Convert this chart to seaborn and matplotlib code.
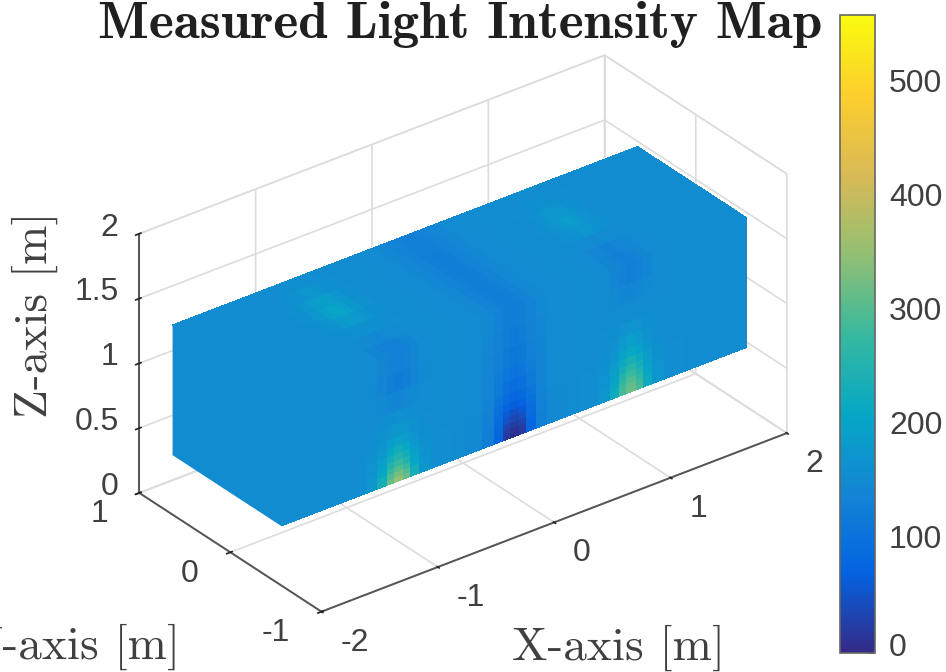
import numpy as np
import matplotlib
matplotlib.use("Agg")
import matplotlib.pyplot as plt
from matplotlib.colors import LinearSegmentedColormap, Normalize
from matplotlib.cm import ScalarMappable
from matplotlib.transforms import ScaledTranslation
import seaborn as sns

# --- data -------------------------------------------------------------
title = "Measured Light Intensity Map"
x_ticks = [-2, -1, 0, 1, 2]
x_tick_labels = ["-2", "-1", "0", "1", "2"]
y_ticks = [-1, 0, 1]
y_tick_labels = ["-1", "0", "1"]
z_ticks = [0, 0.5, 1, 1.5, 2]
z_tick_labels = ["0", "0.5", "1", "1.5", "2"]
cbar_ticks = [0, 100, 200, 300, 400, 500]

# cell edges of the measured block
x_edges = [-2.0, -1.45, -1.28, -1.18, -1.10, -1.04, -0.96, -0.90, -0.82, -0.72, -0.55,
           -0.45, -0.28, -0.18, -0.10, -0.04, 0.04, 0.10, 0.18, 0.28, 0.45,
           0.55, 0.72, 0.82, 0.90, 0.96, 1.04, 1.10, 1.18, 1.28, 1.45, 2.0]
y_edges = [-0.56, -0.41, -0.26, -0.11, 0.04, 0.19, 0.34, 0.49, 0.64]
z_edges = [0.46, 0.50, 0.54, 0.58, 0.63, 0.68, 0.74, 0.81, 0.91, 1.01, 1.16, 1.31, 1.46]

# front face, rows bottom to top, columns along x, around x = -1, 0, 1
front_left = [
    [158, 176, 238, 315, 350, 315, 238, 176, 158],
    [158, 174, 228, 298, 330, 298, 228, 174, 158],
    [157, 172, 214, 275, 305, 275, 214, 172, 157],
    [157, 170, 204, 250, 275, 250, 204, 170, 157],
    [156, 167, 192, 228, 250, 228, 192, 167, 156],
    [156, 164, 180, 210, 228, 210, 180, 164, 156],
    [155, 161, 172, 190, 200, 190, 172, 161, 155],
    [155, 157, 163, 172, 178, 172, 163, 157, 155],
    [155, 155, 157, 160, 162, 160, 157, 155, 155],
    [155, 153, 149, 145, 143, 145, 149, 153, 155],
    [155, 150, 138, 127, 122, 127, 138, 150, 155],
    [155, 152, 143, 134, 130, 134, 143, 152, 155],
]
front_mid = [
    [148, 128, 75, 18, 8, 18, 75, 128, 148],
    [148, 128, 78, 24, 12, 24, 78, 128, 148],
    [148, 128, 82, 34, 22, 34, 82, 128, 148],
    [149, 130, 88, 48, 36, 48, 88, 130, 149],
    [150, 132, 94, 60, 50, 60, 94, 132, 150],
    [150, 134, 100, 74, 66, 74, 100, 134, 150],
    [151, 136, 108, 86, 80, 86, 108, 136, 151],
    [152, 139, 116, 98, 92, 98, 116, 139, 152],
    [153, 142, 124, 110, 104, 110, 124, 142, 153],
    [153, 144, 130, 118, 113, 118, 130, 144, 153],
    [153, 146, 134, 124, 120, 124, 134, 146, 153],
    [153, 147, 137, 128, 124, 128, 137, 147, 153],
]
front_right = [
    [158, 174, 226, 292, 320, 292, 226, 174, 158],
    [158, 173, 221, 284, 312, 284, 221, 173, 158],
    [157, 172, 213, 270, 298, 270, 213, 172, 157],
    [157, 170, 203, 252, 280, 252, 203, 170, 157],
    [156, 167, 194, 234, 260, 234, 194, 167, 156],
    [156, 164, 186, 217, 238, 217, 186, 164, 156],
    [155, 161, 176, 198, 214, 198, 176, 161, 155],
    [155, 158, 167, 182, 192, 182, 167, 158, 155],
    [155, 156, 160, 168, 172, 168, 160, 156, 155],
    [155, 155, 155, 155, 155, 155, 155, 155, 155],
    [155, 153, 149, 145, 143, 145, 149, 153, 155],
    [155, 152, 143, 133, 128, 133, 143, 152, 155],
]
# top face, rows front to back, columns along x
top_left = [
    [155, 152, 143, 134, 130, 134, 143, 152, 155],
    [155, 155, 151, 147, 145, 147, 151, 155, 155],
    [155, 157, 160, 164, 166, 164, 160, 157, 155],
    [155, 160, 170, 182, 188, 182, 170, 160, 155],
    [155, 163, 178, 196, 206, 196, 178, 163, 155],
    [155, 161, 174, 188, 194, 188, 174, 161, 155],
    [155, 157, 163, 170, 173, 170, 163, 157, 155],
    [155, 155, 157, 159, 160, 159, 157, 155, 155],
]
top_mid = [
    [153, 147, 137, 128, 124, 128, 137, 147, 153],
    [153, 147, 136, 128, 124, 128, 136, 147, 153],
    [153, 147, 136, 128, 124, 128, 136, 147, 153],
    [152, 146, 136, 128, 125, 128, 136, 146, 152],
    [152, 146, 136, 129, 126, 129, 136, 146, 152],
    [151, 145, 136, 129, 126, 129, 136, 145, 151],
    [151, 145, 136, 130, 128, 130, 136, 145, 151],
    [151, 145, 136, 130, 128, 130, 136, 145, 151],
]
top_right = [
    [155, 152, 143, 133, 128, 133, 143, 152, 155],
    [155, 153, 146, 138, 134, 138, 146, 153, 155],
    [155, 155, 153, 151, 150, 151, 153, 155, 155],
    [155, 157, 163, 170, 173, 170, 163, 157, 155],
    [155, 159, 168, 180, 186, 180, 168, 159, 155],
    [155, 157, 164, 173, 176, 173, 164, 157, 155],
    [155, 156, 158, 161, 163, 161, 158, 156, 155],
    [155, 155, 155, 157, 158, 157, 155, 155, 155],
]
background_level = 155

parula_colors = ["#352a87", "#0363e1", "#1485d4", "#06a7c6", "#38b99e",
                 "#92bf73", "#d9ba56", "#fcce2e", "#f9fb0e"]
value_min, value_max = 0, 560

# --- style ------------------------------------------------------------
sns.set_theme(style="whitegrid", rc={
    "grid.color": "#dcdcdc", "grid.linewidth": 1.2,
    "axes3d.xaxis.panecolor": "white", "axes3d.yaxis.panecolor": "white",
    "axes3d.zaxis.panecolor": "white",
})
SANS = "Liberation Sans"
INK = "#404040"
W, H = 946, 672
fig = plt.figure(figsize=(W / 100, H / 100), dpi=100, facecolor="white")

side = 672
cx, cy = 454, 342.5
ax = fig.add_axes([(cx - side / 2) / W, (H - cy - side / 2) / H, side / W, side / H],
                  projection="3d", proj_type="ortho")
ax.view_init(elev=30, azim=-127.5)
ax.set_box_aspect((3.92, 2, 2), zoom=1.045)
ax.set_xlim(-2, 2, view_margin=0)
ax.set_ylim(-1, 1, view_margin=0)
ax.set_zlim(0, 2, view_margin=0)
ax.patch.set_alpha(0)

cmap = LinearSegmentedColormap.from_list("parula_like", parula_colors, N=256)
norm = Normalize(value_min, value_max)


def assemble(left, mid, right):
    n = len(left)
    gap = np.full((n, 1), background_level)
    return np.hstack([gap, left, gap, mid, gap, right, gap])


front = assemble(front_left, front_mid, front_right)
top = assemble(top_left, top_mid, top_right)
xe, ye, ze = np.array(x_edges), np.array(y_edges), np.array(z_edges)

common = dict(rstride=1, cstride=1, shade=False, linewidth=0, antialiased=False)
X, Z = np.meshgrid(xe, ze)
ax.plot_surface(X, np.full_like(X, ye[0]), Z, facecolors=cmap(norm(front)), **common)
X, Y = np.meshgrid(xe, ye)
ax.plot_surface(X, Y, np.full_like(X, ze[-1]), facecolors=cmap(norm(top)), **common)
Y, Z = np.meshgrid(ye[[0, -1]], ze[[0, -1]])
ax.plot_surface(np.full_like(Y, xe[0]), Y, Z,
                facecolors=cmap(norm(np.full((1, 1), background_level))), **common)

ax.set_xticks(x_ticks, labels=x_tick_labels)
ax.set_yticks(y_ticks, labels=y_tick_labels)
ax.set_zticks(z_ticks, labels=z_tick_labels)
for axis, pad, ha in ((ax.xaxis, 18, "left"), (ax.yaxis, 9, "right"), (ax.zaxis, 0, "right")):
    axis.pane.set_facecolor("white")
    axis.pane.set_edgecolor("#dcdcdc")
    axis.line.set_color("#555555")
    axis.line.set_linewidth(1.4)
    axis._axinfo["tick"]["inward_factor"] = 0.1
    axis._axinfo["tick"]["outward_factor"] = 0.05
    axis._axinfo["tick"]["color"] = "#555555"
    axis.set_tick_params(labelsize=23, labelcolor=INK, pad=pad, labelfontfamily=SANS)
    for tick in axis.get_major_ticks():
        tick.label1.set_ha(ha)
        tick.label1.set_va("baseline")
ax.zaxis.set_ticks_position("upper")

# colour bar
cax = fig.add_axes([840 / W, (H - 653) / H, 35 / W, 638 / H])
sm = ScalarMappable(norm=norm, cmap=cmap)
cb = fig.colorbar(sm, cax=cax, ticks=cbar_ticks)
cb.outline.set_edgecolor("#666666")
cb.outline.set_linewidth(1.2)
cax.tick_params(axis="y", direction="in", length=5, width=1.2, color="#555555",
                labelsize=23, labelcolor=INK, pad=10)
for lab, value in zip(cax.get_yticklabels(), cbar_ticks):
    lab.set_fontfamily(SANS)
    lift = 8 if value == 0 else 3
    lab.set_transform(lab.get_transform() + ScaledTranslation(0, lift / 100, fig.dpi_scale_trans))

# labels
fig.suptitle(title, x=460 / W, y=1 - 25 / H, va="center", ha="center",
             fontsize=38.5, family="cmb10", color="#202020")
label_kw = dict(fontsize=34, family="cmr10", color=INK, va="center")
fig.text(618 / W, 1 - 648 / H, "X-axis [m]", ha="center", **label_kw)
fig.text(180 / W, 1 - 647 / H, "Y-axis [m]", ha="right", **label_kw)
fig.text(35 / W, 1 - 315 / H, "Z-axis [m]", ha="center", rotation=90, **label_kw)

fig.savefig("out.png", dpi=100, facecolor="white")
